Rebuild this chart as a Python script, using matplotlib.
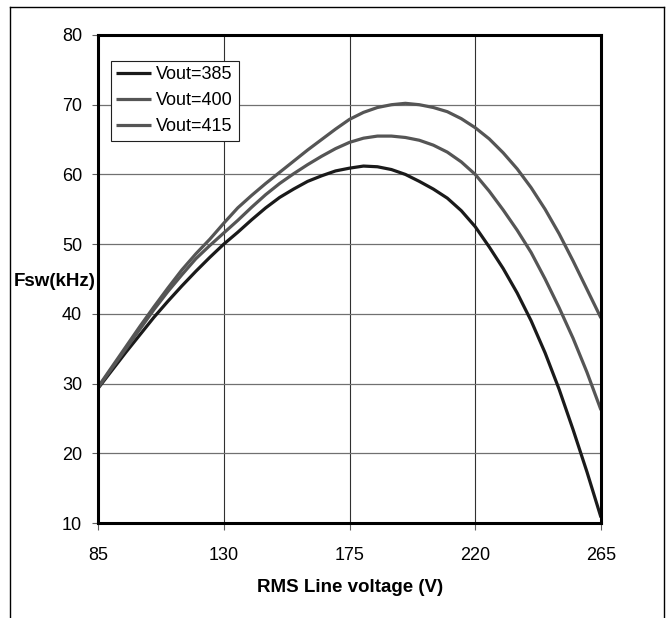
import matplotlib
matplotlib.use('Agg')
import matplotlib.pyplot as plt
from matplotlib.lines import Line2D

plt.rcParams['font.family'] = ['Liberation Sans', 'DejaVu Sans']

# RMS line voltage (V)
voltage = [85, 90, 95, 100, 105, 110, 115, 120, 125, 130, 135, 140, 145, 150, 155, 160, 165, 170, 175,
           180, 185, 190, 195, 200, 205, 210, 215, 220, 225, 230, 235, 240, 245, 250, 255, 260, 265]

# switching frequency (kHz) for each output voltage
fsw_385 = [29.3, 31.9, 34.5, 37.0, 39.5, 41.8, 44.0, 46.1, 48.1, 50.0, 51.7, 53.5, 55.2, 56.7, 57.9, 59.0, 59.8, 60.5, 60.9,
           61.2, 61.1, 60.7, 60.0, 59.0, 57.9, 56.6, 54.8, 52.5, 49.6, 46.5, 43.0, 39.0, 34.4, 29.2, 23.4, 17.3, 10.8]
fsw_400 = [29.4, 32.2, 35.0, 37.8, 40.6, 43.2, 45.6, 47.9, 49.8, 51.6, 53.4, 55.3, 57.1, 58.7, 60.1, 61.4, 62.6, 63.7, 64.6,
           65.2, 65.5, 65.5, 65.3, 64.9, 64.2, 63.2, 61.8, 60.0, 57.6, 54.9, 52.0, 48.8, 45.0, 40.9, 36.5, 31.6, 26.2]
fsw_415 = [29.5, 32.4, 35.3, 38.2, 41.0, 43.7, 46.3, 48.6, 50.7, 53.0, 55.2, 57.0, 58.7, 60.3, 61.9, 63.5, 65.0, 66.5, 67.9,
           68.9, 69.6, 70.0, 70.2, 70.0, 69.6, 69.0, 68.0, 66.7, 65.1, 63.1, 60.8, 58.1, 55.0, 51.5, 47.6, 43.5, 39.4]

labels = ['Vout=385', 'Vout=400', 'Vout=415']
colors = ['#1a1a1a', '#555555', '#555555']
x_ticks = [85, 130, 175, 220, 265]
y_ticks = [10, 20, 30, 40, 50, 60, 70, 80]

fig = plt.figure(figsize=(6.68, 6.18), dpi=100)
ax = fig.add_axes([98 / 668, 95 / 618, 503 / 668, 488 / 618])

# 격자선
for v in x_ticks[1:-1]:
    ax.axvline(v, color='#303030', lw=0.8, zorder=1)
for f in y_ticks[1:-1]:
    ax.axhline(f, color='#707070', lw=0.9, zorder=1)

for ys, lab, c in zip([fsw_385, fsw_400, fsw_415], labels, colors):
    ax.plot(voltage, ys, color=c, lw=2.3, label=lab, zorder=3, solid_capstyle='butt')

ax.set_xlim(85, 265)
ax.set_ylim(10, 80)
ax.set_xticks(x_ticks)
ax.set_yticks(y_ticks)
ax.tick_params(axis='x', direction='out', length=5, width=0.8, color='#606060', pad=12, labelsize=13)
ax.tick_params(axis='y', direction='out', length=4.5, width=0.8, color='#606060', pad=7, labelsize=13)
for s in ax.spines.values():
    s.set_linewidth(2.2)
    s.set_color('black')
    s.set_zorder(4)

leg = ax.legend(loc='upper left', bbox_to_anchor=((110.7 - 98) / 503, (523 - 60.7) / 488),
                borderaxespad=0, fontsize=13, fancybox=False, framealpha=1, edgecolor='#202020',
                handlelength=1.95, handletextpad=0.28, labelspacing=0.5, borderpad=0.3)
leg.get_frame().set_linewidth(0.8)

fig.text(54.5 / 668, 1 - 281.7 / 618, 'Fsw(kHz)', ha='center', va='center', fontsize=13.5, fontweight='bold')
fig.text(350 / 668, 1 - 588 / 618, 'RMS Line voltage (V)', ha='center', va='center', fontsize=13.5, fontweight='bold')

# 바깥 테두리 (아래쪽은 잘려 있음)
bx0, bx1, by1 = 9.5 / 668, 664 / 668, 1 - 7 / 618
fig.add_artist(Line2D([bx0, bx0], [0, by1], color='black', lw=1.0))
fig.add_artist(Line2D([bx0, bx1], [by1, by1], color='black', lw=1.0))
fig.add_artist(Line2D([bx1, bx1], [0, by1], color='black', lw=1.0))

fig.savefig('out.png', dpi=100, facecolor='white')
